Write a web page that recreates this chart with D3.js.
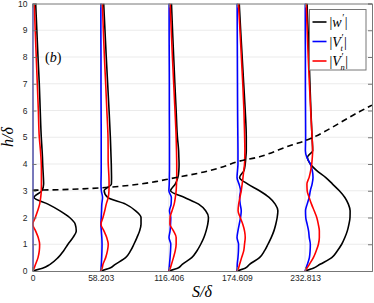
<!DOCTYPE html>
<html>
<head>
<meta charset="utf-8">
<script src="https://cdn.jsdelivr.net/npm/d3@7"></script>
<style>
body { margin: 0; background: #fff; }
svg { display: block; }
</style>
</head>
<body>
<div id="chart"></div>
<script>
const width = 374, height = 303;
const margin = { top: 3.5, right: 2, bottom: 32, left: 32.5 };

// station positions along S/delta (also the x tick labels)
const stations = [0, 58.203, 116.406, 174.609, 232.813];
const xTickLabels = ["0", "58.203", "116.406", "174.609", "232.813"];
const yTicks = [0, 1, 2, 3, 4, 5, 6, 7, 8, 9, 10];

// heights h/delta where the profiles are read
const hGrid = [0, 0.1, 0.25, 0.5, 0.75, 1, 1.25, 1.5, 1.75, 2, 2.25, 2.5, 2.75, 3, 3.25, 3.5, 3.75, 4, 4.25, 4.5, 5, 6, 7, 8, 9, 10];

// |w'| profiles (black), offset from each station
const w0 = [0, 8.5, 15, 21.8, 26.5, 30.3, 34.5, 37.4, 36.5, 31.7, 23.5, 13.2, 1.3, 8.0, 9.5, 9.3, 9.0, 8.7, 8.5, 8.2, 7.5, 6.6, 5.8, 4.7, 3.7, 2.7];
const w1 = [0, 7.5, 12.5, 21.3, 25.5, 28.4, 31, 33.3, 34.5, 34.5, 29.9, 21.3, 6, 3.0, 9.2, 9.3, 9.2, 9.1, 8.9, 8.7, 8.3, 7.2, 6.0, 4.8, 3.7, 2.6];
const w2 = [0, 7.5, 11.5, 19.6, 24, 27.3, 30, 31.9, 33.3, 33.9, 31.5, 25.5, 13.5, 1.5, 5.5, 7.8, 8.6, 8.8, 8.6, 8.4, 7.4, 6.3, 5.2, 4.2, 3.2, 2.3];
const w3 = [0, 7, 10.8, 19.3, 23.5, 26.5, 29.3, 31.6, 33.2, 34.4, 35, 32.7, 27.5, 19.3, 9.4, 2.3, 6, 7.1, 7.6, 8, 8, 7.1, 5.8, 4.5, 3.2, 2];
const w4 = [0, 7, 12.8, 22.8, 27.5, 31.3, 34, 36.1, 37.5, 38.4, 38.5, 37, 34, 29.3, 23.5, 17.5, 10, 4.5, 2.0, 6.5, 6.0, 5.0, 4.2, 3.4, 2.6, 1.7];

// |V't| profiles (blue)
const vt0 = [0, 0.1, 0.2, 0.3, 0.3, 0.3, 0.2, 0.1, 0.1, 0.2, 0.3, 0.3, 0.3, 0.2, 0.2, 0.2, 0.2, 0.2, 0.2, 0.2, 0.2, 0.2, 0.1, 0.1, 0.1, 0.1];
const vt1 = [0, 0.3, 0.6, 0.9, 1.1, 1.2, 1.0, 0.6, 0.2, 0.5, 0.8, 1.0, 1.6, 0.6, 0.3, 0.4, 0.5, 0.5, 0.5, 0.5, 0.5, 0.4, 0.3, 0.3, 0.2, 0.2];
const vt2 = [0, 0.3, 0.6, 1.1, 1.5, 1.7, 0.2, 1.1, 1.5, 1.7, 0.6, 2.0, 2.2, 0.1, 0.4, 0.5, 0.6, 0.6, 0.6, 0.6, 0.6, 0.5, 0.5, 0.4, 0.3, 0.3];
const vt3 = [0, 0.2, 0.3, 0.9, 1.3, 1.4, 0.1, 0.9, 2.0, 3.1, 3.7, 2.8, 2.3, 3.1, 1.8, 0.1, 0.5, 0.9, 0.9, 0.9, 0.8, 0.6, 0.5, 0.4, 0.3, 0.2];
const vt4 = [0, 0.8, 2, 3.7, 4.3, 4.5, 3.6, 3.0, 1.8, 0.6, 0.4, 1.8, 3.5, 4.5, 6.0, 6.8, 6.2, 4.5, 1.5, 0.3, 0.5, 0.4, 0.3, 0.3, 0.2, 0.2];

// |V'n| profiles (red)
const vn0 = [0, 1.3, 2.6, 4.7, 5.8, 6.1, 4.9, 2.6, 0.2, 2.4, 4.4, 6.1, 7.0, 7.5, 7.6, 7.6, 7.6, 7.5, 7.2, 6.8, 5.8, 5.0, 4.1, 3.2, 2.3, 1.5];
const vn1 = [0, 1.2, 2, 4.3, 5.8, 6.5, 5.2, 2.8, 0.3, 2, 3.5, 4.8, 6.5, 7.1, 7.2, 7.1, 6.8, 6.5, 6.4, 6.4, 6.3, 5.3, 4.3, 3.2, 2.3, 1.5];
const vn2 = [0, 1.2, 2.3, 4, 5.5, 6.3, 6.3, 4, 1.0, 1.1, 2.8, 4.6, 5.6, 6.3, 6.6, 6.8, 6.8, 6.8, 6.7, 6.6, 6.3, 5.3, 4.2, 3.1, 2.1, 1.2];
const vn3 = [0, 1.3, 2.3, 4.0, 5.8, 6.5, 7.1, 6.5, 5.0, 2.8, 1.0, 1.5, 2.6, 3.7, 4.5, 5.2, 5.8, 6.5, 6.7, 6.8, 6.6, 6.0, 5.0, 3.8, 2.6, 1.3];
const vn4 = [0, 1.5, 3.7, 7.1, 9.5, 11.4, 12.2, 12.2, 11.3, 10, 7.8, 5.5, 3.5, 1.8, 1.6, 3.5, 4.8, 5.7, 6.2, 6.5, 6.0, 4.8, 3.7, 2.7, 1.8, 1.0];

// dashed boundary-layer edge
const edgeS = [0, 58.203, 105, 116.406, 163, 174.609, 194, 221.5, 232.813, 279.5, 290];
const edgeH = [3.02, 3.11, 3.34, 3.44, 3.9, 4.08, 4.27, 4.71, 4.87, 5.96, 6.2];

const wProfiles = [w0, w1, w2, w3, w4];
const vtProfiles = [vt0, vt1, vt2, vt3, vt4];
const vnProfiles = [vn0, vn1, vn2, vn3, vn4];

const iw = width - margin.left - margin.right;
const ih = height - margin.top - margin.bottom;

const svg = d3.select("#chart").append("svg")
    .attr("width", width).attr("height", height)
    .style("font-family", "'Liberation Sans', Arial, sans-serif");

const g = svg.append("g").attr("transform", "translate(" + margin.left + "," + margin.top + ")");

const x = d3.scaleLinear().domain([0, 290]).range([0, iw]);
const y = d3.scaleLinear().domain([0, 10]).range([ih, 0]);

g.append("defs").append("clipPath").attr("id", "clip")
    .append("rect").attr("width", iw).attr("height", ih);

// grid
g.append("g").selectAll("line").data(yTicks.slice(1, -1)).enter().append("line")
    .attr("x1", 0).attr("x2", iw)
    .attr("y1", d => y(d)).attr("y2", d => y(d))
    .attr("stroke", "#ebebeb").attr("stroke-width", 1);
g.append("g").selectAll("line").data(stations.slice(1)).enter().append("line")
    .attr("x1", d => x(d)).attr("x2", d => x(d))
    .attr("y1", 0).attr("y2", ih)
    .attr("stroke", "#ebebeb").attr("stroke-width", 1);

const plot = g.append("g").attr("clip-path", "url(#clip)");

function profileLine(s0) {
    return d3.line()
        .x(d => x(s0 + d[1]))
        .y(d => y(d[0]))
        .curve(d3.curveMonotoneY);
}

const series = [
    { data: wProfiles, color: "#000000" },
    { data: vtProfiles, color: "#0000ff" },
    { data: vnProfiles, color: "#ff0000" }
];

stations.forEach(function (s0, i) {
    series.forEach(function (ser) {
        const pts = hGrid.map((h, k) => [h, ser.data[i][k]]);
        plot.append("path")
            .attr("d", profileLine(s0)(pts))
            .attr("fill", "none")
            .attr("stroke", ser.color)
            .attr("stroke-width", 1.6);
    });
});

// boundary layer edge
const edge = d3.line().x(d => x(d[0])).y(d => y(d[1])).curve(d3.curveMonotoneX);
plot.append("path")
    .attr("d", edge(edgeS.map((s, k) => [s, edgeH[k]])))
    .attr("fill", "none")
    .attr("stroke", "#000")
    .attr("stroke-width", 1.6)
    .attr("stroke-dasharray", "6,4");

// axes
const axisColor = "#777";
const xAxis = g.append("g").attr("transform", "translate(0," + ih + ")")
    .call(d3.axisBottom(x).tickValues(stations).tickFormat((d, i) => xTickLabels[i]).tickSize(-4).tickPadding(4));
const yAxis = g.append("g")
    .call(d3.axisLeft(y).tickValues(yTicks).tickFormat(d3.format("d")).tickSize(-4).tickPadding(5));
const yAxisR = g.append("g").attr("transform", "translate(" + iw + ",0)")
    .call(d3.axisRight(y).tickValues(yTicks).tickFormat("").tickSize(-4));
const xAxisT = g.append("g")
    .call(d3.axisTop(x).tickValues(stations).tickFormat("").tickSize(-4));

[xAxis, yAxis, yAxisR, xAxisT].forEach(function (a) {
    a.select(".domain").attr("stroke", axisColor);
    a.selectAll(".tick line").attr("stroke", axisColor);
    a.selectAll(".tick text").attr("fill", "#262626").style("font-size", "8.5px")
        .style("font-family", "'Liberation Sans', Arial, sans-serif");
});

// labels
const serif = "'Liberation Serif', 'DejaVu Serif', serif";
svg.append("text")
    .attr("x", 202).attr("y", 297)
    .attr("text-anchor", "middle")
    .style("font-family", serif).style("font-size", "16px").style("font-style", "italic")
    .text("S/δ");

svg.append("text")
    .attr("transform", "translate(13,137) rotate(-90)")
    .attr("text-anchor", "middle")
    .style("font-family", serif).style("font-size", "16px").style("font-style", "italic")
    .text("h/δ");

const lab = svg.append("text")
    .attr("x", 45).attr("y", 62)
    .style("font-family", serif).style("font-size", "14px");
lab.append("tspan").text("(");
lab.append("tspan").style("font-style", "italic").text("b");
lab.append("tspan").text(")");

// legend
const legendItems = [
    { name: "w", sub: "", color: "#000000" },
    { name: "V", sub: "t", color: "#0000ff" },
    { name: "V", sub: "n", color: "#ff0000" }
];
const legend = svg.append("g").attr("transform", "translate(309.5,9.5)");
legend.append("rect")
    .attr("width", 56.5).attr("height", 60.5)
    .attr("fill", "#fff").attr("stroke", "#777").attr("stroke-width", 1);
legendItems.forEach(function (d, i) {
    const yy = 12.5 + i * 19.5;
    legend.append("line")
        .attr("x1", 3).attr("x2", 17).attr("y1", yy).attr("y2", yy)
        .attr("stroke", d.color).attr("stroke-width", 1.6);
    const base = yy + 5;
    const t = legend.append("text")
        .attr("x", 20).attr("y", base)
        .style("font-family", serif).style("font-size", "14px");
    t.append("tspan").text("|");
    t.append("tspan").style("font-style", "italic").text(d.name);
    const x0 = 20 + t.node().getComputedTextLength();
    const pr = legend.append("text")
        .attr("x", x0 + 0.5).attr("y", base - 6)
        .style("font-family", serif).style("font-size", "10px")
        .text("′");
    let x1 = x0 + 0.5 + pr.node().getComputedTextLength();
    if (d.sub) {
        const sb = legend.append("text")
            .attr("x", x0 - 0.5).attr("y", base + 4)
            .style("font-family", serif).style("font-size", "8.5px").style("font-style", "italic")
            .text(d.sub);
        x1 = Math.max(x1, x0 - 0.5 + sb.node().getComputedTextLength());
    }
    legend.append("text")
        .attr("x", x1 + 0.5).attr("y", base)
        .style("font-family", serif).style("font-size", "14px")
        .text("|");
});
</script>
</body>
</html>
